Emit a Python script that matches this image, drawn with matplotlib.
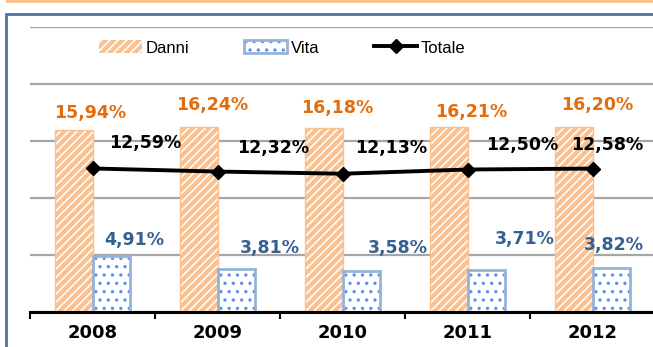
import numpy as np
import matplotlib
matplotlib.use("Agg")
import matplotlib.pyplot as plt
from matplotlib.patches import Patch, Rectangle
from matplotlib.lines import Line2D

# ── 数据 ──────────────────────────────────────────────────────────
anni   = ["2008", "2009", "2010", "2011", "2012"]
danni  = [15.94, 16.24, 16.18, 16.21, 16.20]
vita   = [4.91, 3.81, 3.58, 3.71, 3.82]
totale = [12.59, 12.32, 12.13, 12.50, 12.58]

# spostamento etichette (pixel) rispetto al punto (anno, valore)
off_danni  = [(-2.5, 17), (-5.5, 22), (-5.5, 19.5), (3.5, 15), (4.5, 22)]
off_vita   = [(41.5, 16), (52.5, 20.6), (55.5, 23.2), (57.5, 30.7), (21.5, 23.5)]
off_totale = [(52.5, 25.5), (55.5, 23.6), (48.5, 25.7), (54.5, 24.5), (14.5, 23.6)]

ORANGE     = "#FAC090"
ORANGE_TXT = "#E46C0A"
BLUE_EDGE  = "#95B3D7"
BLUE_DOT   = "#5B8FEE"
BLUE_TXT   = "#376092"
GRID       = "#A6A6A6"
FRAME      = "#4A74A8"

W, H = 653, 347
plt.rcParams["hatch.linewidth"] = 1.2


def fmt(v):
    return f"{v:.2f}%".replace(".", ",")


fig = plt.figure(figsize=(W / 100, H / 100), dpi=100)

# cornice del grafico
fig.add_artist(Rectangle((6 / W, -0.1), 1.2, (H - 14) / H + 0.1, transform=fig.transFigure,
                         fill=False, edgecolor=FRAME, linewidth=2))
fig.add_artist(Rectangle((6 / W, (H - 3) / H), 1.0, 3 / H, transform=fig.transFigure,
                         facecolor=ORANGE, edgecolor="none"))

ax = fig.add_axes([30 / W, 35 / H, 625 / W, 285 / H])
x = np.arange(len(anni))
bw = 0.3

# Danni: arancio con tratteggio bianco
ax.bar(x - bw / 2, danni, bw, color=ORANGE, edgecolor="white", hatch="////",
       linewidth=0, zorder=2)
ax.bar(x - bw / 2, danni, bw, fill=False, edgecolor=ORANGE, linewidth=1, zorder=3)

# Vita: bianco con puntini blu
ax.bar(x + bw / 2, vita, bw, color="white", edgecolor=BLUE_DOT, hatch="..",
       linewidth=0, zorder=2)
ax.bar(x + bw / 2, vita, bw, fill=False, edgecolor=BLUE_EDGE, linewidth=2, zorder=3)

# Totale
ax.plot(x, totale, color="black", linewidth=2.8, marker="D", markersize=7,
        zorder=4)

for i in range(len(anni)):
    ax.annotate(fmt(danni[i]), (x[i], danni[i]), xytext=off_danni[i],
                textcoords="offset pixels", ha="center", va="center",
                color=ORANGE_TXT, fontsize=12.5, fontweight="bold", zorder=5)
    ax.annotate(fmt(vita[i]), (x[i], vita[i]), xytext=off_vita[i],
                textcoords="offset pixels", ha="center", va="center",
                color=BLUE_TXT, fontsize=12.5, fontweight="bold", zorder=5)
    ax.annotate(fmt(totale[i]), (x[i], totale[i]), xytext=off_totale[i],
                textcoords="offset pixels", ha="center", va="center",
                color="black", fontsize=12.5, fontweight="bold", zorder=5)

ax.set_xlim(-0.5, len(anni) - 0.5)
ax.set_ylim(0, 25)
ax.set_yticks(np.arange(0, 26, 5))
ax.yaxis.grid(True, color=GRID, linewidth=1.6, zorder=0)
ax.set_axisbelow(True)
ax.tick_params(axis="y", left=False, labelleft=False)

ax.set_xticks(x)
ax.set_xticklabels(anni, fontsize=13, fontweight="bold")
ax.set_xticks(np.arange(-0.5, len(anni), 1), minor=True)
ax.tick_params(axis="x", which="major", length=0, pad=9)
ax.tick_params(axis="x", which="minor", length=5, width=1.5, direction="out")

for s in ["top", "right", "left"]:
    ax.spines[s].set_visible(False)
ax.spines["bottom"].set_linewidth(2.2)
ax.spines["bottom"].set_zorder(6)

h_danni = Patch(facecolor=ORANGE, edgecolor="white", hatch="////", linewidth=0)
h_vita = (Patch(facecolor="white", edgecolor=BLUE_DOT, hatch="..", linewidth=0),
          Patch(fill=False, edgecolor=BLUE_EDGE, linewidth=2))
h_tot = Line2D([], [], color="black", linewidth=2.8, marker="D", markersize=7)
fig.legend([h_danni, h_vita, h_tot], ["Danni", "Vita", "Totale"], loc="center",
           bbox_to_anchor=(282 / W, (H - 48) / H), ncol=3, frameon=False,
           prop={"family": "Liberation Sans", "size": 12},
           handlelength=2.6, handleheight=0.8, handletextpad=0.2,
           columnspacing=3.3)

fig.savefig("out.png", dpi=100)
